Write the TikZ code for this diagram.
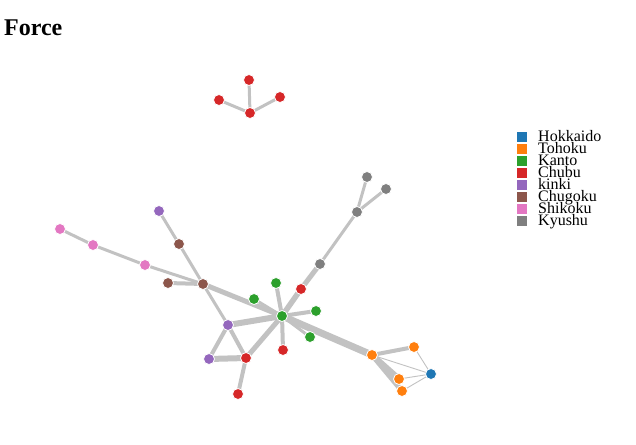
\documentclass[tikz,border=0pt]{standalone}
\usepackage{fontspec}
\setmainfont{Liberation Serif}
\definecolor{cHok}{HTML}{1F77B4}
\definecolor{cToh}{HTML}{FF7F0E}
\definecolor{cKan}{HTML}{2CA02C}
\definecolor{cChu}{HTML}{D62728}
\definecolor{cKin}{HTML}{9467BD}
\definecolor{cChg}{HTML}{8C564B}
\definecolor{cShi}{HTML}{E377C2}
\definecolor{cKyu}{HTML}{7F7F7F}
\definecolor{edgec}{HTML}{C2C2C2}
\tikzset{
  nd/.style={circle, inner sep=0pt, minimum size=11pt, draw=white, line width=0.8pt, fill=#1},
  lk/.style={draw=edgec, line width=#1},
  lk/.default=3pt,
  sw/.style={rectangle, inner sep=0pt, minimum size=10pt, fill=#1},
  lg/.style={anchor=base west, inner sep=0pt, font=\fontsize{16}{16}\selectfont}
}
\begin{document}
\begin{tikzpicture}[x=1pt,y=-1pt]
\useasboundingbox (0,0) rectangle (636,444);
\fill[white] (0,0) rectangle (636,444);
\node[anchor=base west, inner sep=0pt, font=\fontsize{24}{24}\selectfont\bfseries] (title) at (4,36) {Force};
% nodes
\begin{scope}[every node/.style={}]
\coordinate (r1) at (249,80);
\coordinate (r2) at (219,100);
\coordinate (r3) at (280,97);
\coordinate (r4) at (250,113);
\coordinate (g1) at (367,177);
\coordinate (g2) at (386,189);
\coordinate (g3) at (357,212);
\coordinate (g4) at (320,264);
\coordinate (cr1) at (301,289);
\coordinate (k0) at (282,316);
\coordinate (k1) at (276,283);
\coordinate (k2) at (254,299);
\coordinate (k3) at (316,311);
\coordinate (k4) at (310,337);
\coordinate (cr2) at (283,350);
\coordinate (p1) at (228,325);
\coordinate (p2) at (209,359);
\coordinate (cr3) at (246,358);
\coordinate (cr4) at (238,394);
\coordinate (b1) at (203,284);
\coordinate (b2) at (168,283);
\coordinate (b3) at (179,244);
\coordinate (p3) at (159,211);
\coordinate (s1) at (60,229);
\coordinate (s2) at (93,245);
\coordinate (s3) at (145,265);
\coordinate (o1) at (372,355);
\coordinate (o2) at (414,347);
\coordinate (o3) at (399,379);
\coordinate (o4) at (402,391);
\coordinate (h1) at (431,374);
\end{scope}
% edges
\draw[lk] (r4) -- (r1); \draw[lk] (r4) -- (r2); \draw[lk] (r4) -- (r3);
\draw[lk] (g3) -- (g1); \draw[lk] (g3) -- (g2); \draw[lk] (g3) -- (g4);
\draw[lk=5pt] (g4) -- (cr1); \draw[lk=5.5pt] (cr1) -- (k0);
\draw[lk=4pt] (k0) -- (k1); \draw[lk=3pt] (k0) -- (k2); \draw[lk=4pt] (k0) -- (k3);
\draw[lk=3pt] (k0) -- (k4); \draw[lk=4pt] (k0) -- (cr2);
\draw[lk=6pt] (k0) -- (p1); \draw[lk=5pt] (k0) -- (cr3);
\draw[lk=5pt] (b1) -- (k0); \draw[lk=7pt] (k0) -- (o1);
\draw[lk=4pt] (p1) -- (p2); \draw[lk=4pt] (p1) -- (cr3); \draw[lk=6pt] (p2) -- (cr3);
\draw[lk=4pt] (cr3) -- (cr4);
\draw[lk=3pt] (b1) -- (p1); \draw[lk=4pt] (b1) -- (b2); \draw[lk=3pt] (b1) -- (b3);
\draw[lk=3pt] (b3) -- (p3);
\draw[lk=3pt] (s1) -- (s2); \draw[lk=3pt] (s2) -- (s3); \draw[lk=3pt] (s3) -- (b1);
\draw[lk=4pt] (o1) -- (o2); \draw[lk=6pt] (o1) -- (o3); \draw[lk=5pt] (o1) -- (o4);
\draw[lk=0.9pt] (o1) -- (h1); \draw[lk=0.9pt] (o2) -- (h1);
\draw[lk=0.9pt] (o3) -- (h1); \draw[lk=0.9pt] (o4) -- (h1);
% node discs
\foreach \n/\c in {r1/cChu,r2/cChu,r3/cChu,r4/cChu,g1/cKyu,g2/cKyu,g3/cKyu,g4/cKyu,
  cr1/cChu,k0/cKan,k1/cKan,k2/cKan,k3/cKan,k4/cKan,cr2/cChu,p1/cKin,p2/cKin,cr3/cChu,cr4/cChu,
  b1/cChg,b2/cChg,b3/cChg,p3/cKin,s1/cShi,s2/cShi,s3/cShi,o1/cToh,o2/cToh,o3/cToh,o4/cToh,h1/cHok}
  \node[nd=\c] (n\n) at (\n) {};
% legend
\foreach \i/\c/\t in {0/cHok/Hokkaido,1/cToh/Tohoku,2/cKan/Kanto,3/cChu/Chubu,4/cKin/kinki,5/cChg/Chugoku,6/cShi/Shikoku,7/cKyu/Kyushu}{
  \node[sw=\c] (sw\i) at (522,{137+12*\i}) {};
  \node[lg] (lg\i) at (538,{141+12*\i}) {\t};
}
\end{tikzpicture}
\end{document}
